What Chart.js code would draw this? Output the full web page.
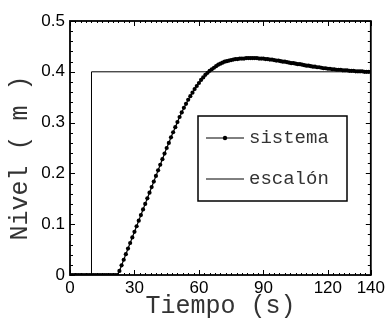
<!DOCTYPE html>
<html>
<head>
<meta charset="utf-8">
<script src="https://cdn.jsdelivr.net/npm/chart.js@4/dist/chart.umd.min.js"></script>
<style>
  html, body { margin: 0; padding: 0; background: #fff; }
  #grafico { display: block; }
</style>
</head>
<body>
<canvas id="grafico" width="388" height="323"></canvas>
<script>
// datos
const tiempo = [
  0, 1, 2, 3, 4, 5, 6, 7, 8, 9, 10, 11, 12, 13, 14, 15, 16, 17, 18, 19,
  20, 21, 22, 23, 24, 25, 26, 27, 28, 29, 30, 31, 32, 33, 34, 35, 36, 37, 38, 39,
  40, 41, 42, 43, 44, 45, 46, 47, 48, 49, 50, 51, 52, 53, 54, 55, 56, 57, 58, 59,
  60, 61, 62, 63, 64, 65, 66, 67, 68, 69, 70, 71, 72, 73, 74, 75, 76, 77, 78, 79,
  80, 81, 82, 83, 84, 85, 86, 87, 88, 89, 90, 91, 92, 93, 94, 95, 96, 97, 98, 99,
  100, 101, 102, 103, 104, 105, 106, 107, 108, 109, 110, 111, 112, 113, 114, 115, 116, 117, 118, 119,
  120, 121, 122, 123, 124, 125, 126, 127, 128, 129, 130, 131, 132, 133, 134, 135, 136, 137, 138, 139,
  140
];
const nivelSistema = [
  0, 0, 0, 0, 0, 0, 0, 0, 0, 0, 0, 0, 0, 0, 0, 0, 0, 0, 0, 0,
  0, 0, 0.000, 0.008, 0.019, 0.030, 0.041, 0.052, 0.063, 0.074, 0.085, 0.096, 0.107, 0.118, 0.129, 0.140, 0.151, 0.162, 0.173, 0.184,
  0.195, 0.206, 0.217, 0.228, 0.239, 0.250, 0.260, 0.271, 0.281, 0.291, 0.301, 0.311, 0.320, 0.329, 0.337, 0.345, 0.352, 0.359, 0.366, 0.372,
  0.378, 0.384, 0.389, 0.394, 0.398, 0.402, 0.405, 0.408, 0.411, 0.414, 0.416, 0.418, 0.420, 0.421, 0.422, 0.423, 0.424, 0.425, 0.425, 0.426,
  0.426, 0.426, 0.427, 0.427, 0.427, 0.427, 0.427, 0.427, 0.426, 0.426, 0.426, 0.425, 0.425, 0.424, 0.424, 0.423, 0.422, 0.422, 0.421, 0.420,
  0.420, 0.419, 0.418, 0.417, 0.417, 0.416, 0.415, 0.415, 0.414, 0.413, 0.412, 0.412, 0.411, 0.410, 0.410, 0.409, 0.409, 0.408, 0.407, 0.407,
  0.406, 0.406, 0.405, 0.405, 0.404, 0.404, 0.404, 0.403, 0.403, 0.403, 0.402, 0.402, 0.402, 0.401, 0.401, 0.401, 0.401, 0.400, 0.400, 0.400,
  0.400
];
const tiempoEscalon = [0, 10, 10, 140];
const nivelEscalon = [0, 0, 0.4, 0.4];

const etiquetasSerie = ["sistema", "escalón"];
const ticksX = [0, 30, 60, 90, 120, 140];
const ticksY = [0, 0.1, 0.2, 0.3, 0.4, 0.5];

const fuenteMono = "'Liberation Mono', 'DejaVu Sans Mono', monospace";
const fuenteSans = "'Liberation Sans', Arial, sans-serif";

// marcas menores/mayores hacia dentro, marco y leyenda dentro del grafico
const marcoPlugin = {
  id: "marco",
  afterDraw(chart) {
    const ctx = chart.ctx;
    const a = chart.chartArea;
    const sx = chart.scales.x, sy = chart.scales.y;
    ctx.save();
    ctx.strokeStyle = "#000";

    // marcas eje Y (izq y der)
    ctx.lineWidth = 1;
    for (let i = 0; i <= 25; i++) {
      const y = Math.round(sy.getPixelForValue(i * 0.02)) + 0.5;
      const largo = i % 5 === 0 ? 5 : 3;
      ctx.beginPath();
      ctx.moveTo(a.left, y); ctx.lineTo(a.left + largo, y);
      ctx.moveTo(a.right, y); ctx.lineTo(a.right - largo, y);
      ctx.stroke();
    }
    // marcas eje X (abajo y arriba)
    for (let i = 0; i <= 56; i++) {
      const v = i * 2.5;
      const x = Math.round(sx.getPixelForValue(v)) + 0.5;
      const largo = ticksX.includes(v) ? 5 : 2;
      ctx.beginPath();
      ctx.moveTo(x, a.bottom); ctx.lineTo(x, a.bottom - largo);
      ctx.moveTo(x, a.top); ctx.lineTo(x, a.top + largo);
      ctx.stroke();
    }

    // marco
    ctx.lineWidth = 1.8;
    ctx.strokeRect(a.left, a.top, a.right - a.left, a.bottom - a.top);

    // titulo eje Y
    ctx.fillStyle = "#333";
    ctx.font = "25px " + fuenteMono;
    ctx.translate(20, 158);
    ctx.rotate(-Math.PI / 2);
    ctx.textAlign = "center";
    ctx.textBaseline = "middle";
    ctx.fillText("Nivel ( m )", 0, 0);
    ctx.restore();

    // leyenda
    ctx.save();
    ctx.lineWidth = 1.5;
    ctx.strokeStyle = "#000";
    ctx.fillStyle = "#fff";
    ctx.fillRect(198, 116, 149, 85);
    ctx.strokeRect(198, 116, 149, 85);
    const filas = [138, 179];
    chart.data.datasets.forEach((ds, i) => {
      const y = filas[i];
      ctx.strokeStyle = ds.borderColor;
      ctx.lineWidth = 1;
      ctx.beginPath();
      ctx.moveTo(206, y); ctx.lineTo(244, y);
      ctx.stroke();
      if (ds.pointRadius > 0) {
        ctx.fillStyle = ds.pointBackgroundColor;
        ctx.beginPath();
        ctx.arc(225, y, 2.2, 0, Math.PI * 2);
        ctx.fill();
      }
      ctx.fillStyle = "#333";
      ctx.font = "19px " + fuenteMono;
      ctx.textAlign = "left";
      ctx.textBaseline = "middle";
      ctx.fillText(ds.label, 249, y);
    });
    ctx.restore();
  }
};

const ctx = document.getElementById("grafico").getContext("2d");
new Chart(ctx, {
  type: "line",
  data: {
    datasets: [
      {
        label: etiquetasSerie[0],
        data: tiempo.map((t, i) => ({ x: t, y: nivelSistema[i] })),
        borderColor: "#000",
        borderWidth: 1.2,
        pointRadius: 2.1,
        pointBackgroundColor: "#000",
        pointBorderWidth: 0,
        tension: 0
      },
      {
        label: etiquetasSerie[1],
        data: tiempoEscalon.map((t, i) => ({ x: t, y: nivelEscalon[i] })),
        borderColor: "#000",
        borderWidth: 1,
        pointRadius: 0,
        tension: 0
      }
    ]
  },
  options: {
    responsive: false,
    animation: false,
    layout: { padding: { top: 21, right: 16, left: 0, bottom: 0 } },
    plugins: {
      legend: { display: false },
      tooltip: { enabled: false }
    },
    scales: {
      x: {
        type: "linear",
        min: 0,
        max: 140,
        afterBuildTicks: s => { s.ticks = ticksX.map(v => ({ value: v })); },
        afterFit: s => { s.height = 48; },
        grid: { display: false, drawTicks: false },
        border: { display: false },
        ticks: {
          color: "#000",
          padding: 3,
          maxRotation: 0,
          autoSkip: false,
          font: { family: fuenteSans, size: 17 }
        },
        title: {
          display: true,
          text: "Tiempo (s)",
          color: "#333",
          font: { family: fuenteMono, size: 25 },
          padding: { top: 0, bottom: 2 }
        }
      },
      y: {
        min: 0,
        max: 0.5,
        afterBuildTicks: s => { s.ticks = ticksY.map(v => ({ value: v })); },
        afterFit: s => { s.width = 70; },
        grid: { display: false, drawTicks: false },
        border: { display: false },
        ticks: {
          color: "#000",
          padding: 5,
          autoSkip: false,
          font: { family: fuenteSans, size: 17 },
          callback: v => (v === 0 ? "0" : v.toFixed(1))
        }
      }
    }
  },
  plugins: [marcoPlugin]
});
</script>
</body>
</html>
